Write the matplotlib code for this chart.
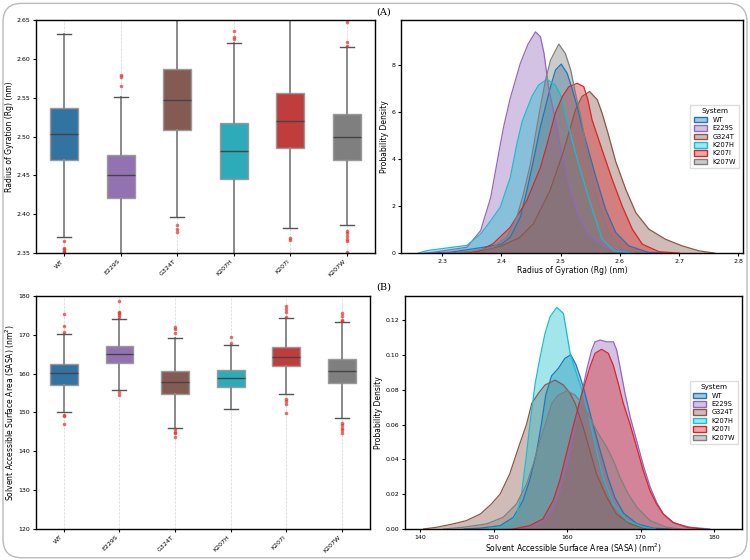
import colorsys

import matplotlib

matplotlib.use("Agg")
import matplotlib.colors as mcolors
import matplotlib.pyplot as plt
from matplotlib.patches import FancyBboxPatch, Patch
from matplotlib.ticker import FormatStrFormatter

systems = ["WT", "E229S", "G324T", "K207H", "K207I", "K207W"]
base_colors = ["tab:blue", "tab:purple", "tab:brown", "tab:cyan", "tab:red", "tab:gray"]

# --- Rg box statistics (nm) ---
rg_q1 = [2.470, 2.421, 2.508, 2.446, 2.485, 2.470]
rg_med = [2.504, 2.450, 2.547, 2.481, 2.520, 2.499]
rg_q3 = [2.537, 2.477, 2.587, 2.517, 2.556, 2.529]
rg_lo = [2.371, 2.330, 2.397, 2.320, 2.382, 2.386]
rg_hi = [2.632, 2.551, 2.700, 2.621, 2.680, 2.615]
rg_out = [
    [2.365, 2.357, 2.355, 2.353, 2.352],
    [2.565, 2.577, 2.580],
    [2.386, 2.381, 2.377],
    [2.626, 2.628, 2.636],
    [2.370, 2.367],
    [2.617, 2.622, 2.648, 2.379, 2.376, 2.372, 2.368, 2.365, 2.351],
]

# --- SASA box statistics (nm^2) ---
sasa_q1 = [157.2, 162.7, 154.8, 156.6, 161.9, 157.5]
sasa_med = [160.1, 165.0, 157.8, 158.8, 164.4, 160.6]
sasa_q3 = [162.5, 167.2, 160.7, 160.9, 166.9, 163.8]
sasa_lo = [150.0, 155.7, 146.1, 150.8, 154.8, 148.6]
sasa_hi = [170.2, 174.0, 169.3, 167.3, 174.4, 173.4]
sasa_out = [
    [175.3, 172.2, 170.8, 149.4, 149.1, 147.0],
    [178.6, 175.9, 175.5, 175.0, 174.5, 155.2, 154.4],
    [171.9, 171.5, 170.6, 145.7, 145.1, 144.6, 143.8],
    [169.5, 167.8],
    [177.3, 176.7, 175.8, 174.7, 153.4, 152.9, 152.2, 149.8],
    [175.5, 174.9, 173.9, 173.6, 147.2, 146.8, 146.1, 145.5, 144.7],
]

# --- Rg density curves (x nm, density) ---
rg_kde_x = {
    "WT": [2.28, 2.314, 2.37, 2.40, 2.415, 2.432, 2.443, 2.454, 2.466, 2.4745, 2.483, 2.4914,
           2.501, 2.511, 2.52, 2.528, 2.536, 2.542, 2.559, 2.576, 2.593, 2.615, 2.648, 2.68],
    "E229S": [2.27, 2.286, 2.342, 2.365, 2.382, 2.398, 2.404, 2.415, 2.432, 2.445, 2.4576,
              2.466, 2.472, 2.48, 2.49, 2.50, 2.515, 2.53, 2.55, 2.58, 2.62],
    "G324T": [2.31, 2.36, 2.40, 2.43, 2.454, 2.482, 2.505, 2.525, 2.536, 2.549, 2.562, 2.570,
              2.58, 2.593, 2.61, 2.627, 2.649, 2.677, 2.705, 2.733, 2.76],
    "K207H": [2.26, 2.275, 2.342, 2.365, 2.382, 2.398, 2.415, 2.426, 2.435, 2.441, 2.452,
              2.463, 2.477, 2.491, 2.501, 2.508, 2.525, 2.548, 2.57, 2.59, 2.62],
    "K207I": [2.33, 2.362, 2.386, 2.415, 2.443, 2.466, 2.477, 2.491, 2.503, 2.514, 2.528,
              2.539, 2.546, 2.553, 2.570, 2.587, 2.604, 2.621, 2.638, 2.666, 2.70],
    "K207W": [2.30, 2.342, 2.386, 2.409, 2.426, 2.437, 2.449, 2.460, 2.466, 2.4745, 2.483,
              2.497, 2.508, 2.517, 2.525, 2.534, 2.542, 2.553, 2.565, 2.581, 2.604, 2.64],
}
rg_kde_y = {
    "WT": [0.0, 0.04, 0.25, 0.38, 0.68, 1.53, 2.66, 3.93, 5.39, 6.24, 7.09, 7.80,
           8.05, 7.66, 6.95, 6.24, 5.39, 4.83, 3.28, 1.86, 0.88, 0.31, 0.03, 0.0],
    "E229S": [0.0, 0.04, 0.25, 0.96, 2.37, 4.60, 5.40, 6.60, 8.08, 8.90, 9.42,
              9.21, 8.50, 7.00, 5.80, 4.50, 2.80, 1.60, 0.70, 0.20, 0.02],
    "G324T": [0.0, 0.08, 0.30, 0.65, 1.24, 2.66, 4.35, 6.10, 6.67, 6.88, 6.53, 5.96,
              5.10, 3.90, 2.71, 1.72, 1.02, 0.59, 0.31, 0.10, 0.0],
    "K207H": [0.0, 0.11, 0.33, 0.82, 1.38, 1.95, 3.22, 4.63, 5.60, 6.00, 6.70,
              7.16, 7.40, 7.16, 6.67, 5.96, 4.27, 2.30, 0.60, 0.10, 0.0],
    "K207I": [0.0, 0.08, 0.40, 1.10, 2.24, 3.65, 4.63, 5.96, 6.67, 7.09, 7.23,
              7.09, 6.53, 5.68, 4.40, 3.14, 2.00, 1.02, 0.38, 0.06, 0.0],
    "K207W": [0.0, 0.04, 0.25, 0.68, 1.53, 2.50, 3.79, 5.39, 6.24, 7.37, 8.22,
              8.90, 8.50, 7.80, 6.81, 5.82, 4.69, 3.28, 2.00, 0.88, 0.17, 0.0],
}

# --- SASA density curves (x nm^2, density) ---
sasa_kde_x = {
    "WT": [146.0, 148.2, 150.9, 152.7, 154.0, 154.9, 155.8, 156.5, 157.1, 157.9, 158.8, 159.7,
           160.5, 161.2, 161.8, 162.3, 163.4, 164.5, 165.6, 166.5, 167.7, 169.5, 171.7, 174.0],
    "E229S": [152.0, 154.0, 156.5, 158.0, 159.0, 160.0, 161.0, 162.0, 162.7, 163.35, 163.8,
              164.5, 165.4, 166.3, 166.74, 167.19, 167.87, 168.6, 169.5, 170.4, 171.3, 172.2,
              173.1, 174.4, 176.7, 179.4],
    "G324T": [140.5, 142.3, 144.5, 146.3, 148.2, 149.7, 150.9, 152.2, 153.4, 154.5, 155.2,
              156.1, 157.0, 158.37, 159.5, 160.41, 161.09, 162.2, 163.1, 164.0, 165.4, 166.7,
              168.6, 170.8],
    "K207H": [149.0, 150.9, 152.3, 153.2, 153.8, 154.4, 155.0, 155.66, 156.34, 157.0, 157.69,
              158.6, 159.5, 159.96, 160.41, 161.3, 162.2, 163.1, 164.0, 164.9, 166.3, 168.1,
              170.4, 172.0],
    "K207I": [152.7, 154.9, 156.7, 158.1, 159.0, 159.9, 160.8, 161.76, 162.44, 163.12, 163.8,
              164.7, 165.6, 166.28, 166.96, 167.64, 168.55, 169.46, 170.36, 171.27, 172.17,
              173.08, 174.43, 176.24, 178.5],
    "K207W": [143.2, 145.9, 149.05, 151.3, 153.1, 154.5, 155.4, 156.3, 157.2, 157.92, 158.8,
              160.0, 161.09, 161.99, 163.1, 164.0, 165.4, 166.3, 167.2, 168.3, 169.5, 171.3,
              173.5, 175.5],
}
sasa_kde_y = {
    "WT": [0.0, 0.0005, 0.0019, 0.0067, 0.0163, 0.0278, 0.0431, 0.060, 0.077, 0.088, 0.0922,
           0.098, 0.1000, 0.0945, 0.087, 0.080, 0.062, 0.045, 0.029, 0.018, 0.009, 0.003,
           0.0005, 0.0],
    "E229S": [0.0, 0.0005, 0.004, 0.011, 0.022, 0.038, 0.058, 0.078, 0.092, 0.1028, 0.1075,
              0.1085, 0.1075, 0.1075, 0.1028, 0.0932, 0.0779, 0.064, 0.050, 0.036, 0.024,
              0.015, 0.0085, 0.0035, 0.001, 0.0],
    "G324T": [0.0, 0.0010, 0.0029, 0.0048, 0.0086, 0.0143, 0.0201, 0.0316, 0.0469, 0.0603,
              0.0722, 0.0779, 0.0827, 0.0855, 0.0827, 0.0779, 0.0722, 0.0584, 0.0449, 0.0316,
              0.0182, 0.0086, 0.0029, 0.0],
    "K207H": [0.0, 0.001, 0.003, 0.009, 0.020, 0.040, 0.062, 0.0836, 0.0989, 0.1123, 0.1219,
              0.1273, 0.1238, 0.1123, 0.1009, 0.089, 0.0775, 0.0622, 0.0449, 0.0297, 0.0143,
              0.0049, 0.001, 0.0],
    "K207I": [0.0, 0.0019, 0.0057, 0.0163, 0.0278, 0.0431, 0.0584, 0.0741, 0.0836, 0.0932,
              0.1009, 0.1032, 0.1009, 0.0941, 0.0836, 0.0722, 0.0603, 0.0469, 0.0335, 0.0220,
              0.0143, 0.0086, 0.0038, 0.0010, 0.0],
    "K207W": [0.0, 0.0010, 0.0029, 0.0067, 0.0143, 0.0258, 0.0373, 0.0507, 0.0622, 0.0722,
              0.0769, 0.0794, 0.0769, 0.0722, 0.0641, 0.0565, 0.0469, 0.0392, 0.0297, 0.0201,
              0.0125, 0.0048, 0.0010, 0.0],
}

TICK_FS = 4.5
LABEL_FS = 5.5


def _desaturate(color, prop=0.75):
    h, l, s = colorsys.rgb_to_hls(*mcolors.to_rgb(color))
    return colorsys.hls_to_rgb(h, l, s * prop)


def _box_panel(ax, q1, med, q3, lo, hi, out, ylim, yticks, ylabel):
    stats = [
        dict(q1=a, med=b, q3=c, whislo=d, whishi=e, fliers=f)
        for a, b, c, d, e, f in zip(q1, med, q3, lo, hi, out)
    ]
    res = ax.bxp(
        stats,
        positions=range(len(systems)),
        widths=0.5,
        patch_artist=True,
        boxprops=dict(edgecolor="#9a9a9a", linewidth=1.0),
        medianprops=dict(color="#444444", linewidth=1.0),
        whiskerprops=dict(color="#8a8a8a", linewidth=1.4),
        capprops=dict(color="#555555", linewidth=1.0),
        flierprops=dict(marker="o", markersize=2.6, markerfacecolor="#e03030",
                        markeredgecolor="none", alpha=0.7),
    )
    for box, c in zip(res["boxes"], base_colors):
        box.set_facecolor(_desaturate(c))
    ax.set_xlim(-0.5, len(systems) - 0.5)
    ax.set_ylim(*ylim)
    ax.set_yticks(yticks)
    ax.set_xticks(range(len(systems)))
    ax.set_xticklabels(systems, rotation=45, ha="right", fontsize=TICK_FS)
    ax.tick_params(axis="y", labelsize=TICK_FS, length=2, pad=2)
    ax.tick_params(axis="x", length=2, pad=2)
    ax.grid(True, axis="x", linestyle="--", color="#cccccc", linewidth=0.5, alpha=0.8)
    ax.set_axisbelow(True)
    ax.set_ylabel(ylabel, fontsize=LABEL_FS, labelpad=1.5)


def _kde_panel(ax, xs, ys, xlim, ylim, xlabel, xticks, yticks):
    for name, c in zip(systems, base_colors):
        ax.fill_between(xs[name], ys[name], color=c, alpha=0.4, linewidth=0)
        ax.plot(xs[name], ys[name], color=c, linewidth=0.9)
    ax.set_xlim(*xlim)
    ax.set_ylim(*ylim)
    ax.set_xticks(xticks)
    ax.set_yticks(yticks)
    ax.tick_params(labelsize=TICK_FS, length=2, pad=2)
    ax.set_xlabel(xlabel, fontsize=LABEL_FS, labelpad=1.5)
    ax.set_ylabel("Probability Density", fontsize=LABEL_FS, labelpad=2)
    handles = [
        Patch(facecolor=mcolors.to_rgba(c, 0.4), edgecolor=c, linewidth=1.0, label=n)
        for n, c in zip(systems, base_colors)
    ]
    ax.legend(handles=handles, title="System", loc="center right", fontsize=4.8,
              title_fontsize=5.2, handlelength=2.0, handleheight=0.9, labelspacing=0.35,
              borderpad=0.5, framealpha=1.0, edgecolor="#dddddd", fancybox=False)


fig = plt.figure(figsize=(7.5, 5.6), dpi=100)
ax1 = fig.add_axes([0.048, 0.548, 0.452, 0.416])
ax2 = fig.add_axes([0.535, 0.548, 0.455, 0.416])
ax3 = fig.add_axes([0.048, 0.0554, 0.445, 0.416])
ax4 = fig.add_axes([0.540, 0.0554, 0.449, 0.416])

_box_panel(ax1, rg_q1, rg_med, rg_q3, rg_lo, rg_hi, rg_out, (2.35, 2.65),
           [2.35, 2.40, 2.45, 2.50, 2.55, 2.60, 2.65], "Radius of Gyration (Rg) (nm)")
_box_panel(ax3, sasa_q1, sasa_med, sasa_q3, sasa_lo, sasa_hi, sasa_out, (120, 180),
           [120, 130, 140, 150, 160, 170, 180],
           "Solvent Accessible Surface Area (SASA) (nm$^2$)")
_kde_panel(ax2, rg_kde_x, rg_kde_y, (2.231, 2.807), (0, 9.92),
           "Radius of Gyration (Rg) (nm)", [2.3, 2.4, 2.5, 2.6, 2.7, 2.8], [0, 2, 4, 6, 8])
_kde_panel(ax4, sasa_kde_x, sasa_kde_y, (137.96, 183.75), (0, 0.1338),
           "Solvent Accessible Surface Area (SASA) (nm$^2$)", [140, 150, 160, 170, 180],
           [0.0, 0.02, 0.04, 0.06, 0.08, 0.10, 0.12])
ax1.yaxis.set_major_formatter(FormatStrFormatter("%.2f"))
ax2.yaxis.set_major_formatter(FormatStrFormatter("%d"))
ax4.yaxis.set_major_formatter(FormatStrFormatter("%.2f"))

for ax in (ax1, ax2, ax3, ax4):
    for sp in ax.spines.values():
        sp.set_linewidth(1.0)

fig.text(0.512, 0.978, "(A)", family="DejaVu Serif", fontsize=7, ha="center", va="center")
fig.text(0.512, 0.487, "(B)", family="DejaVu Serif", fontsize=7, ha="center", va="center")

border = FancyBboxPatch((0.004, 0.004), 0.992, 0.99, transform=fig.transFigure,
                        boxstyle="round,pad=0,rounding_size=0.025",
                        mutation_aspect=750 / 560, facecolor="none",
                        edgecolor="#bbbbbb", linewidth=1.0)
fig.patches.append(border)

fig.savefig("out.png", dpi=100)
